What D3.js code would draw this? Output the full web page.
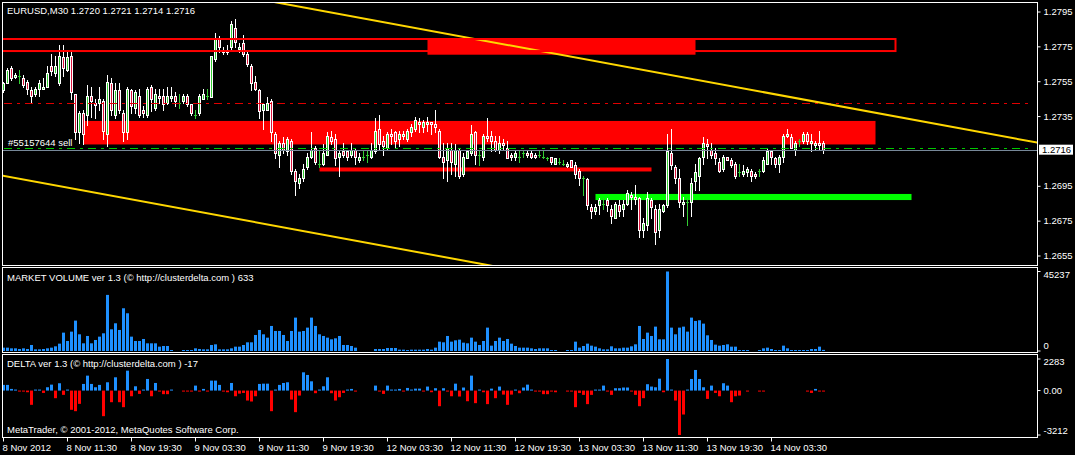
<!DOCTYPE html>
<html><head><meta charset="utf-8">
<script src="https://cdn.jsdelivr.net/npm/d3@7"></script>
<style>
html,body{margin:0;padding:0;background:#000;}
svg{display:block;}
text{font-family:"Liberation Sans",Arial,sans-serif;font-size:9.5px;fill:#fff;}
</style></head><body>
<svg id="c" width="1075" height="455"></svg>
<script>
// ---------- DATA (EURUSD M30, one value per bar) ----------
const opens = [
1.2750,1.2754,1.2763,1.2758,1.2758,1.2757,1.2755,1.2750,1.2748,1.2751,
1.2751,1.2752,1.2764,1.2760,1.2754,1.2769,1.2762,1.2770,1.2748,1.2726,
1.2737,1.2736,1.2747,1.2743,1.2743,1.2744,1.2725,1.2754,1.2736,1.2750,
1.2737,1.2726,1.2750,1.2740,1.2747,1.2739,1.2736,1.2752,1.2740,1.2747,
1.2747,1.2743,1.2746,1.2747,1.2743,1.2744,1.2747,1.2742,1.2736,1.2737,
1.2745,1.2747,1.2746,1.2768,1.2780,1.2773,1.2772,1.2775,1.2786,1.2774,
1.2777,1.2771,1.2764,1.2755,1.2750,1.2739,1.2739,1.2744,1.2725,1.2713,
1.2720,1.2715,1.2721,1.2704,1.2697,1.2700,1.2706,1.2712,1.2717,1.2708,
1.2708,1.2713,1.2723,1.2722,1.2712,1.2715,1.2715,1.2713,1.2716,1.2710,
1.2712,1.2713,1.2712,1.2715,1.2728,1.2721,1.2717,1.2725,1.2726,1.2722,
1.2724,1.2722,1.2726,1.2728,1.2731,1.2729,1.2731,1.2732,1.2731,1.2727,
1.2712,1.2710,1.2716,1.2708,1.2716,1.2702,1.2711,1.2714,1.2726,1.2713,
1.2712,1.2724,1.2724,1.2721,1.2716,1.2720,1.2717,1.2713,1.2712,1.2712,
1.2714,1.2714,1.2714,1.2713,1.2713,1.2712,1.2711,1.2712,1.2708,1.2709,
1.2708,1.2707,1.2710,1.2707,1.2704,1.2700,1.2699,1.2683,1.2681,1.2684,
1.2685,1.2687,1.2682,1.2677,1.2684,1.2682,1.2685,1.2690,1.2689,1.2688,
1.2670,1.2673,1.2687,1.2682,1.2670,1.2681,1.2684,1.2714,1.2706,1.2700,
1.2685,1.2686,1.2686,1.2698,1.2701,1.2712,1.2719,1.2716,1.2714,1.2709,
1.2705,1.2712,1.2710,1.2708,1.2703,1.2702,1.2703,1.2704,1.2702,1.2704,
1.2704,1.2708,1.2715,1.2711,1.2708,1.2712,1.2724,1.2723,1.2716,1.2721,
1.2721,1.2725,1.2720,1.2719,1.2720,1.2720];
const highs = [
1.2755,1.2763,1.2764,1.2760,1.2762,1.2759,1.2756,1.2752,1.2752,1.2756,
1.2757,1.2764,1.2771,1.2770,1.2776,1.2776,1.2773,1.2773,1.2748,1.2738,
1.2739,1.2753,1.2752,1.2745,1.2752,1.2745,1.2759,1.2757,1.2754,1.2754,
1.2739,1.2752,1.2751,1.2750,1.2751,1.2741,1.2752,1.2753,1.2751,1.2751,
1.2751,1.2752,1.2752,1.2749,1.2748,1.2748,1.2748,1.2742,1.2739,1.2748,
1.2751,1.2751,1.2770,1.2783,1.2781,1.2775,1.2776,1.2790,1.2791,1.2777,
1.2782,1.2772,1.2765,1.2758,1.2751,1.2743,1.2746,1.2745,1.2726,1.2721,
1.2723,1.2723,1.2722,1.2705,1.2702,1.2708,1.2714,1.2726,1.2718,1.2716,
1.2719,1.2726,1.2727,1.2725,1.2715,1.2720,1.2716,1.2720,1.2717,1.2714,
1.2715,1.2716,1.2720,1.2734,1.2736,1.2724,1.2726,1.2728,1.2727,1.2727,
1.2727,1.2728,1.2731,1.2735,1.2734,1.2733,1.2735,1.2732,1.2739,1.2728,
1.2720,1.2720,1.2720,1.2719,1.2717,1.2714,1.2716,1.2730,1.2727,1.2715,
1.2725,1.2734,1.2727,1.2724,1.2724,1.2722,1.2721,1.2714,1.2715,1.2715,
1.2715,1.2716,1.2715,1.2714,1.2715,1.2716,1.2712,1.2712,1.2711,1.2711,
1.2710,1.2709,1.2710,1.2709,1.2705,1.2701,1.2700,1.2685,1.2685,1.2688,
1.2688,1.2688,1.2684,1.2686,1.2687,1.2687,1.2693,1.2692,1.2696,1.2689,
1.2677,1.2692,1.2688,1.2684,1.2685,1.2685,1.2725,1.2728,1.2707,1.2705,
1.2689,1.2688,1.2700,1.2708,1.2712,1.2723,1.2722,1.2720,1.2717,1.2711,
1.2713,1.2712,1.2711,1.2709,1.2708,1.2707,1.2706,1.2705,1.2703,1.2705,
1.2712,1.2717,1.2715,1.2712,1.2713,1.2725,1.2728,1.2725,1.2721,1.2722,
1.2726,1.2726,1.2725,1.2721,1.2727,1.2721];
const lows = [
1.2749,1.2754,1.2756,1.2757,1.2754,1.2752,1.2748,1.2743,1.2747,1.2747,
1.2751,1.2752,1.2759,1.2758,1.2753,1.2758,1.2761,1.2745,1.2722,1.2720,
1.2719,1.2730,1.2735,1.2734,1.2739,1.2722,1.2718,1.2736,1.2734,1.2737,
1.2721,1.2722,1.2737,1.2737,1.2735,1.2735,1.2735,1.2738,1.2739,1.2743,
1.2739,1.2742,1.2744,1.2741,1.2740,1.2743,1.2741,1.2736,1.2734,1.2736,
1.2745,1.2745,1.2746,1.2767,1.2772,1.2771,1.2771,1.2774,1.2775,1.2772,
1.2770,1.2764,1.2750,1.2750,1.2734,1.2728,1.2739,1.2721,1.2711,1.2706,
1.2714,1.2713,1.2702,1.2690,1.2694,1.2698,1.2705,1.2711,1.2708,1.2706,
1.2707,1.2713,1.2719,1.2707,1.2701,1.2712,1.2710,1.2712,1.2708,1.2709,
1.2710,1.2709,1.2711,1.2714,1.2716,1.2713,1.2716,1.2719,1.2717,1.2718,
1.2722,1.2721,1.2724,1.2727,1.2726,1.2726,1.2727,1.2725,1.2726,1.2711,
1.2700,1.2698,1.2702,1.2701,1.2700,1.2701,1.2711,1.2713,1.2708,1.2707,
1.2710,1.2721,1.2715,1.2715,1.2714,1.2716,1.2711,1.2710,1.2710,1.2709,
1.2712,1.2712,1.2711,1.2711,1.2712,1.2711,1.2710,1.2708,1.2708,1.2708,
1.2707,1.2706,1.2706,1.2700,1.2696,1.2690,1.2682,1.2677,1.2679,1.2679,
1.2682,1.2681,1.2674,1.2677,1.2678,1.2678,1.2684,1.2682,1.2685,1.2666,
1.2666,1.2670,1.2677,1.2662,1.2666,1.2680,1.2683,1.2705,1.2697,1.2683,
1.2678,1.2673,1.2678,1.2693,1.2693,1.2708,1.2711,1.2711,1.2708,1.2703,
1.2704,1.2710,1.2706,1.2700,1.2701,1.2701,1.2701,1.2698,1.2700,1.2701,
1.2703,1.2708,1.2708,1.2706,1.2703,1.2709,1.2723,1.2717,1.2713,1.2718,
1.2720,1.2719,1.2715,1.2716,1.2716,1.2714];
const closes = [
1.2754,1.2762,1.2757,1.2759,1.2758,1.2753,1.2751,1.2747,1.2751,1.2754,
1.2752,1.2760,1.2761,1.2764,1.2770,1.2763,1.2769,1.2749,1.2726,1.2737,
1.2725,1.2747,1.2744,1.2742,1.2745,1.2727,1.2755,1.2739,1.2750,1.2739,
1.2726,1.2751,1.2741,1.2749,1.2736,1.2737,1.2751,1.2745,1.2748,1.2746,
1.2742,1.2747,1.2747,1.2744,1.2743,1.2747,1.2742,1.2737,1.2736,1.2747,
1.2748,1.2747,1.2770,1.2780,1.2775,1.2772,1.2773,1.2788,1.2778,1.2775,
1.2771,1.2765,1.2754,1.2751,1.2738,1.2742,1.2743,1.2726,1.2714,1.2720,
1.2716,1.2722,1.2704,1.2698,1.2700,1.2705,1.2712,1.2716,1.2709,1.2708,
1.2714,1.2724,1.2721,1.2711,1.2714,1.2713,1.2712,1.2716,1.2712,1.2712,
1.2712,1.2713,1.2716,1.2727,1.2719,1.2718,1.2725,1.2724,1.2721,1.2725,
1.2725,1.2727,1.2729,1.2733,1.2732,1.2732,1.2732,1.2731,1.2729,1.2712,
1.2709,1.2717,1.2709,1.2716,1.2701,1.2712,1.2715,1.2725,1.2713,1.2713,
1.2724,1.2723,1.2721,1.2716,1.2720,1.2719,1.2711,1.2712,1.2714,1.2712,
1.2714,1.2713,1.2712,1.2712,1.2713,1.2712,1.2711,1.2709,1.2711,1.2709,
1.2708,1.2708,1.2706,1.2702,1.2700,1.2700,1.2684,1.2681,1.2683,1.2687,
1.2685,1.2684,1.2678,1.2685,1.2681,1.2685,1.2691,1.2689,1.2688,1.2670,
1.2674,1.2688,1.2683,1.2669,1.2682,1.2684,1.2715,1.2707,1.2700,1.2686,
1.2686,1.2686,1.2697,1.2703,1.2711,1.2720,1.2718,1.2713,1.2711,1.2704,
1.2712,1.2710,1.2707,1.2701,1.2703,1.2704,1.2705,1.2701,1.2701,1.2704,
1.2710,1.2715,1.2712,1.2708,1.2712,1.2724,1.2725,1.2717,1.2720,1.2721,
1.2725,1.2721,1.2721,1.2720,1.2719,1.2716];
const volumes = [
1900,1900,1520,1520,1140,1520,1140,3420,950,950,
1140,1520,1900,2660,4180,10450,5700,11020,17290,9500,
4370,8550,4370,6270,8170,10070,31920,12350,15770,11970,
24320,21470,8170,5700,5700,6840,4370,4370,4370,2470,
2850,2850,570,0,0,380,570,570,1520,1140,
950,950,3420,3800,950,950,950,1520,2470,2470,
3420,4940,4940,9120,11970,9500,7600,14250,11400,11400,
9120,5700,11400,19000,11020,11400,13300,19000,14250,9500,
8550,7600,6650,7220,8550,3420,3420,2850,1900,0,
0,0,0,1140,1140,1140,1710,1710,1710,760,
760,380,760,760,760,760,1140,760,1900,5320,
4940,8550,5320,6080,6460,4750,4370,7600,5320,3420,
5700,13300,3040,5700,7600,5700,6840,4180,2850,1900,
1900,1900,1520,1140,1520,1520,1520,570,570,0,
0,380,570,5320,1900,2850,4180,3040,2470,1520,
950,950,2660,1520,1520,1900,1900,2660,3800,14250,
6840,10450,8550,13870,6650,6650,45237,13300,9500,13300,
13870,11020,19000,17100,17480,15580,8930,6270,3610,3040,
3420,3800,2470,2470,570,570,190,0,0,570,
1520,1900,1140,570,570,3040,1520,570,570,190,
570,570,1140,1140,2470,633];
const deltas = [
410,410,120,70,-70,-70,-120,-1030,70,70,
-170,240,430,-550,530,-310,70,-1390,-1490,-960,
480,1080,480,240,410,-1850,600,-840,960,-840,
-1200,1440,-410,310,-240,70,840,-410,550,-70,
-260,-260,70,0,0,-50,-50,-50,360,-70,
120,-70,720,720,410,-70,-120,550,-410,-220,
-170,-720,-790,-410,480,500,500,-1490,70,410,
550,600,-650,-1560,-360,1320,1130,670,-190,70,
310,960,-190,-720,-480,-170,70,120,-70,0,
0,0,0,360,-70,-240,360,70,70,120,
-50,190,70,140,140,-50,290,-120,170,-1130,
170,-70,-410,500,-430,220,-770,1080,-910,70,
-120,-980,140,-550,290,-290,-1030,-290,70,-190,
220,430,70,-50,-70,-260,-260,-50,-120,0,
0,-50,-50,-1200,-170,-310,-980,-310,70,70,
360,-50,-310,170,170,220,220,-50,-310,-1130,
-550,460,290,240,860,-120,2283,70,-720,-3212,
-1730,70,840,1490,840,240,-600,360,-170,-410,
530,360,-840,-410,-360,0,-30,0,0,-50,
-70,0,0,0,0,0,0,0,0,0,
0,-70,-170,120,-25,-17];

const timeTickBars = [0,16,32,48,64,80,96,112,128,144,160,176,192];
const timeTickLabels = ["8 Nov 2012","8 Nov 11:30","8 Nov 19:30","9 Nov 03:30","9 Nov 11:30","9 Nov 19:30",
  "12 Nov 03:30","12 Nov 11:30","12 Nov 19:30","13 Nov 03:30","13 Nov 11:30","13 Nov 19:30","14 Nov 03:30"];
const priceTicks = [1.2795,1.2775,1.2755,1.2735,1.2695,1.2675,1.2655];
const volumeTicks = [45237,0];
const deltaTicks = [2283,0,-3212];
const bidPrice = 1.2716;
const orderPrice = 1.2717;
const stopLevel = 1.2743;
// objects: [barFrom, barTo, priceLow, priceHigh]
const sellZone = [20, 218, 1.2719, 1.27325];
const topZoneFill = [106, 173, 1.27705, 1.2780];
const topZoneFrame = [-30, 223, 1.27726, 1.27795];
const redLevelBar = [79, 162, 1.27035, 1.27058];
const greenLevelBar = [148, 227, 1.26871, 1.26906];
// trend channel anchors: [bar, price]
const upperTrend = [[69.4, 1.2800], [258.6, 1.2720]];
const lowerTrend = [[0, 1.2701], [120.6, 1.2650]];

const titleText = "EURUSD,M30  1.2720 1.2721 1.2714 1.2716";
const volTitle = "MARKET VOLUME ver 1.3 (\u00a9 http://clusterdelta.com ) 633";
const deltaTitle = "DELTA ver 1.3 (\u00a9 http://clusterdelta.com ) -17";
const copyright = "MetaTrader, \u00a9 2001-2012, MetaQuotes Software Corp.";
const orderLabel = "#55157644 sell";

// ---------- DRAW ----------
const svg = d3.select("#c");
svg.append("rect").attr("width",1075).attr("height",455).attr("fill","#000");
const x = d3.scaleLinear().domain([0,205]).range([3.5,823.5]);
const yP = d3.scaleLinear().domain([1.2655,1.2795]).range([256,12]);
const yV = d3.scaleLinear().domain([0,45237]).range([351,271.5]);
const yD = d3.scaleLinear().domain([-3212,2283]).range([435,359]);
const cr = v => Math.round(v)+0.5;
const BULL="#32cd32", BEAR="#dc143c", DOJI="#32cd32";

svg.append("clipPath").attr("id","pc").append("rect").attr("x",3).attr("y",3).attr("width",1034).attr("height",262);
const pg = svg.append("g").attr("clip-path","url(#pc)");

function rectObj(g, o, fill){
  const y1=yP(o[3]), y2=yP(o[2]);
  return g.append("rect").attr("x",x(o[0])).attr("y",y1).attr("width",x(o[1])-x(o[0])).attr("height",y2-y1).attr("fill",fill);
}
rectObj(pg, sellZone, "#ff0000");
rectObj(pg, topZoneFill, "#ff0000");
rectObj(pg, redLevelBar, "#ff0000");
rectObj(pg, greenLevelBar, "#00ff00");

// candles
const idx = d3.range(opens.length);
const cg = pg.append("g");
idx.forEach(i=>{
  const o=opens[i],h=highs[i],l=lows[i],c=closes[i];
  const left = Math.round(x(i)-1.5);
  const wx = left+1.5;
  const doji = Math.abs(o-c)<1e-9;
  const col = doji?DOJI:"#fff";
  cg.append("line").attr("x1",wx).attr("x2",wx).attr("y1",Math.round(yP(h))).attr("y2",Math.round(yP(l))+1)
    .attr("stroke",col).attr("stroke-width",1);
  if(doji){
    cg.append("line").attr("x1",left).attr("x2",left+3).attr("y1",cr(yP(o))).attr("y2",cr(yP(o))).attr("stroke",DOJI);
  } else {
    let t=Math.round(yP(Math.max(o,c))), b=Math.round(yP(Math.min(o,c)));
    if(b-t<2) b=t+2;
    cg.append("rect").attr("x",left+0.5).attr("y",t+0.5).attr("width",2).attr("height",b-t)
      .attr("fill",c>o?BULL:BEAR).attr("stroke","#fff").attr("stroke-width",1);
  }
});

// horizontal lines
pg.append("line").attr("x1",4).attr("x2",1030).attr("y1",cr(yP(stopLevel))).attr("y2",cr(yP(stopLevel)))
  .attr("stroke","#e00000").attr("stroke-dasharray","8,5,3,5");
pg.append("line").attr("x1",3).attr("x2",1037).attr("y1",cr(yP(bidPrice))).attr("y2",cr(yP(bidPrice)))
  .attr("stroke","#778899");
pg.append("line").attr("x1",4).attr("x2",1030).attr("y1",cr(yP(orderPrice))).attr("y2",cr(yP(orderPrice)))
  .attr("stroke","#00c800").attr("stroke-dasharray","8,5,3,5");

// trend channel
function trend(a){
  const slope=(a[1][1]-a[0][1])/(a[1][0]-a[0][0]);
  const p = b => a[0][1]+slope*(b-a[0][0]);
  pg.append("line").attr("x1",x(-5)).attr("x2",x(265)).attr("y1",yP(p(-5))).attr("y2",yP(p(265)))
    .attr("stroke","#ffd700").attr("stroke-width",2);
}
trend(upperTrend); trend(lowerTrend);

// frame rectangle
{
  const o=topZoneFrame;
  pg.append("rect").attr("x",x(o[0])).attr("y",yP(o[3])).attr("width",x(o[1])-x(o[0])).attr("height",yP(o[2])-yP(o[3]))
    .attr("fill","none").attr("stroke","#ff0000").attr("stroke-width",2);
}

// order label
pg.append("text").attr("x",8).attr("y",146).text(orderLabel);

// volume bars
const vg = svg.append("g");
idx.forEach(i=>{
  const v=volumes[i]; if(v<=0) return;
  const left=Math.round(x(i)-1.5);
  const t=Math.min(yV(v),350);
  vg.append("rect").attr("x",left).attr("y",t).attr("width",3).attr("height",351-t).attr("fill","#1e90ff");
});
// delta bars
const dg = svg.append("g");
const z = yD(0);
idx.forEach(i=>{
  const d=deltas[i]; if(d===0) return;
  const left=Math.round(x(i)-1.5);
  let y1=Math.min(z,yD(d)), y2=Math.max(z,yD(d));
  if(y2-y1<1){ if(d>0) y1=y2-1; else y2=y1+1; }
  dg.append("rect").attr("x",left).attr("y",y1).attr("width",3).attr("height",y2-y1).attr("fill",d>0?"#1e90ff":"#ff0000");
});

// panel frames
[[2.5,265.5],[267.5,352.5],[354.5,437.5]].forEach(p=>{
  svg.append("rect").attr("x",2.5).attr("y",p[0]).attr("width",1035).attr("height",p[1]-p[0])
    .attr("fill","none").attr("stroke","#fff").attr("stroke-width",1);
});

// axes
function styleAxis(g){
  g.select(".domain").remove();
  g.selectAll(".tick line").attr("stroke","#fff");
  g.selectAll(".tick text").attr("fill","#fff").style("font-family","'Liberation Sans',Arial,sans-serif").style("font-size","9.5px");
}
const pa = svg.append("g").attr("transform","translate(1037.5,0)")
  .call(d3.axisRight(yP).tickValues(priceTicks).tickFormat(d3.format(".4f")).tickSize(3).offset(0));
styleAxis(pa);

function clampLabels(g, scale, top, bottom){
  g.selectAll(".tick text").attr("y", d=>{
    const yy=scale(d); const c=Math.max(top, Math.min(bottom, yy)); return c-yy;
  });
}
const va = svg.append("g").attr("transform","translate(1037.5,0)")
  .call(d3.axisRight(yV).tickValues(volumeTicks).tickFormat(d=>String(d)).tickSize(3).offset(0));
styleAxis(va); clampLabels(va, yV, 275, 346);
const da = svg.append("g").attr("transform","translate(1037.5,0)")
  .call(d3.axisRight(yD).tickValues(deltaTicks).tickFormat(d=>d===0?"0.00":String(d)).tickSize(3).offset(0));
styleAxis(da); clampLabels(da, yD, 362, 431);

const ta = svg.append("g").attr("transform","translate(0,437.5)")
  .call(d3.axisBottom(x).tickValues(timeTickBars).tickFormat((d,i)=>timeTickLabels[i]).tickSize(4).offset(0));
styleAxis(ta);
ta.selectAll(".tick text").attr("text-anchor","start").attr("x",-1);

// bid price box
{
  const yb=yP(bidPrice);
  svg.append("rect").attr("x",1039).attr("y",yb-5).attr("width",34).attr("height",10).attr("fill","#fff");
  svg.append("text").attr("x",1042).attr("y",yb).attr("dy","0.35em").style("fill","#000").text(d3.format(".4f")(bidPrice));
}

// titles
svg.append("text").attr("x",7).attr("y",14).text(titleText);
svg.append("text").attr("x",7).attr("y",281).text(volTitle);
svg.append("text").attr("x",7).attr("y",367).text(deltaTitle);
svg.append("text").attr("x",7).attr("y",433).text(copyright);
</script>
</body></html>
